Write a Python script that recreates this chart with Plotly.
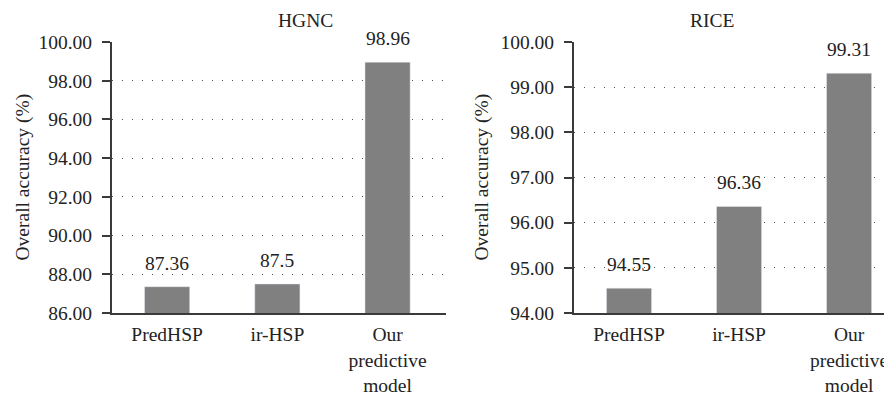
import plotly.graph_objects as go

categories = ["PredHSP", "ir-HSP", "Our<br>predictive<br>model"]
hgnc_values = [87.36, 87.5, 98.96]
hgnc_labels = ["87.36", "87.5", "98.96"]
rice_values = [94.55, 96.36, 99.31]
rice_labels = ["94.55", "96.36", "99.31"]
panel_titles = ["HGNC", "RICE"]
y_title = "Overall accuracy (%)"

# page has an 8px body margin; the figure is sized to fill the rest of the window
OFF = 8
W, H = 892 - OFF, 400 - OFF
FONT = "Liberation Serif, Times New Roman, serif"
FS = 19.5
BAR = "#808080"
AX = "#3a3a3a"
TXT = "#222"

def px(x):
    return (x - OFF) / W

fig = go.Figure()
fig.add_trace(go.Bar(x=[0, 1, 2], y=hgnc_values, marker_color=BAR, width=0.41,
                     xaxis="x", yaxis="y", showlegend=False, hoverinfo="skip"))
fig.add_trace(go.Bar(x=[0, 1, 2], y=rice_values, marker_color=BAR, width=0.41,
                     xaxis="x2", yaxis="y2", showlegend=False, hoverinfo="skip"))

def xaxis(domain, anchor, rng):
    return dict(domain=domain, anchor=anchor, range=rng, tickmode="array",
                tickvals=[0, 1, 2], ticktext=categories, showline=True,
                linecolor=AX, linewidth=2, ticks="", showgrid=False,
                zeroline=False, tickfont=dict(family=FONT, size=FS, color=TXT),
                ticklabelstandoff=3,
                fixedrange=True, automargin=False)

def yaxis(anchor, rng, dtick):
    return dict(anchor=anchor, domain=[0, 1], range=rng, dtick=dtick, tick0=rng[0],
                tickformat=".2f", showline=True, linecolor=AX, linewidth=2,
                ticks="outside", ticklen=8, tickwidth=1.5, tickcolor=AX,
                ticklabelstandoff=6,
                showgrid=True, gridcolor="#555", gridwidth=1, griddash="1px,9px",
                zeroline=False, tickfont=dict(family=FONT, size=FS, color=TXT),
                fixedrange=True, automargin=False)

fig.update_layout(
    width=W, height=H, plot_bgcolor="white", paper_bgcolor="white",
    margin=dict(l=0, r=0, t=42 - OFF, b=87),
    xaxis=xaxis([px(112), px(446)], "y", [-0.5, 2.53]),
    yaxis=yaxis("x", [86, 100], 2),
    xaxis2=xaxis([px(574), 1.0], "y2", [-0.5, 2.39]),
    yaxis2=yaxis("x2", [94, 100], 1),
    font=dict(family=FONT, size=FS, color=TXT),
)

annotations = []
for i, (v, t) in enumerate(zip(hgnc_values, hgnc_labels)):
    annotations.append(dict(x=i, y=v, xref="x", yref="y", text=t, showarrow=False,
                            yanchor="bottom", yshift=11, font=dict(family=FONT, size=FS, color=TXT)))
for i, (v, t) in enumerate(zip(rice_values, rice_labels)):
    annotations.append(dict(x=i, y=v, xref="x2", yref="y2", text=t, showarrow=False,
                            yanchor="bottom", yshift=11, font=dict(family=FONT, size=FS, color=TXT)))
annotations.append(dict(x=px(276), y=1, xref="paper", yref="paper", text=panel_titles[0],
                        showarrow=False, yanchor="top", yshift=34,
                        font=dict(family=FONT, size=FS, color=TXT)))
annotations.append(dict(x=px(736), y=1, xref="paper", yref="paper", text=panel_titles[1],
                        showarrow=False, yanchor="top", yshift=34,
                        font=dict(family=FONT, size=FS, color=TXT)))
for xp in [px(22), px(481)]:
    annotations.append(dict(x=xp, y=0.5, xref="paper", yref="paper", text=y_title,
                            showarrow=False, textangle=-90, xanchor="center", yanchor="middle",
                            font=dict(family=FONT, size=FS, color=TXT)))
fig.update_layout(annotations=annotations)

fig.write_html("out.html")
